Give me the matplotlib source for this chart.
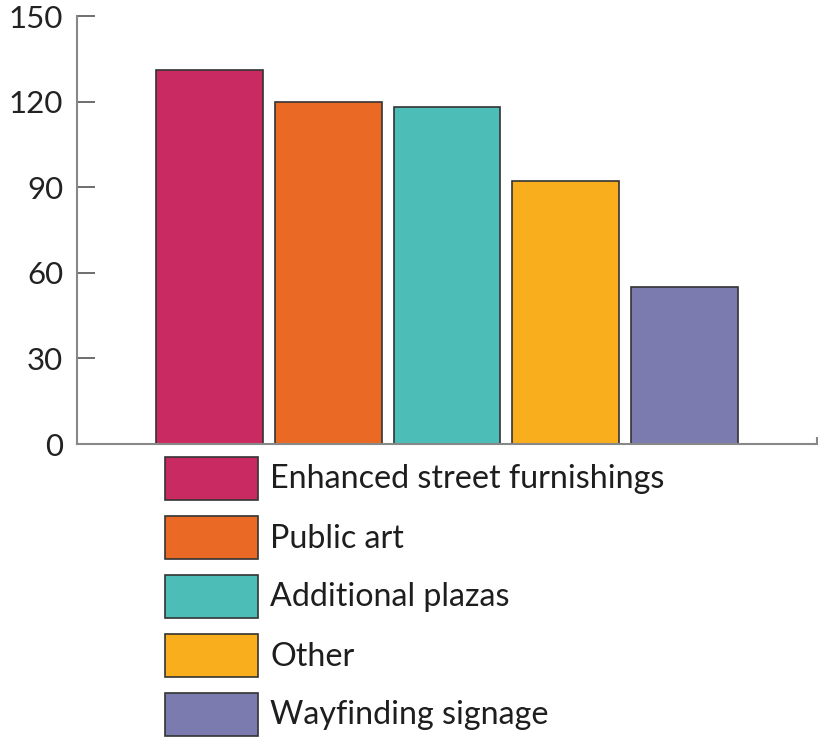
import matplotlib
matplotlib.use("Agg")
import matplotlib.pyplot as plt
from matplotlib.patches import Rectangle

categories = ["Enhanced street furnishings", "Public art", "Additional plazas", "Other", "Wayfinding signage"]
values = [131, 120, 118, 92, 55]
colors = ["#C92A62", "#EA6A25", "#4CBDB7", "#F8AE1D", "#7B7BB0"]
yticks = [0, 30, 60, 90, 120, 150]

plt.rcParams['font.family'] = ['Lato', 'DejaVu Sans']
W, H = 818, 738
fig = plt.figure(figsize=(W / 100, H / 100), dpi=100)
ax = fig.add_axes([77 / W, 1 - 444 / H, 740 / W, 428 / H])

x = list(range(len(values)))
ax.bar(x, values, width=0.9, color=colors, edgecolor="#333333", linewidth=1.2, zorder=2)
ax.set_xlim(-1.12, len(values) - 1 + 1.12)
ax.set_ylim(0, 150)
ax.set_yticks(yticks)
ax.set_yticklabels([str(t) for t in yticks])
ax.tick_params(axis='y', direction='in', length=13, width=1.2, color="#555555",
               labelsize=22.5, labelcolor="#222222", pad=10)
ax.set_xticks([len(values) - 1 + 1.12])
ax.set_xticklabels([""])
ax.tick_params(axis='x', direction='in', length=5, width=1.5, color="#888888")
for s in ["top", "right"]:
    ax.spines[s].set_visible(False)
for s in ["left", "bottom"]:
    ax.spines[s].set_color("#888888")
    ax.spines[s].set_linewidth(1.5)

# legend below the axes
box_x, box_w, box_h = 165, 93, 43
top0, step = 457, 59
for i, (cat, col) in enumerate(zip(categories, colors)):
    y_top = top0 + i * step
    fig.patches.append(Rectangle((box_x / W, 1 - (y_top + box_h) / H), box_w / W, box_h / H,
                                 transform=fig.transFigure, facecolor=col,
                                 edgecolor="#333333", linewidth=1.2))
    fig.text(270 / W, 1 - (y_top + box_h / 2 + 1) / H, cat, fontsize=23.2, color="#1e1e1e",
             va="center", ha="left")

fig.savefig("out.png", dpi=100)
